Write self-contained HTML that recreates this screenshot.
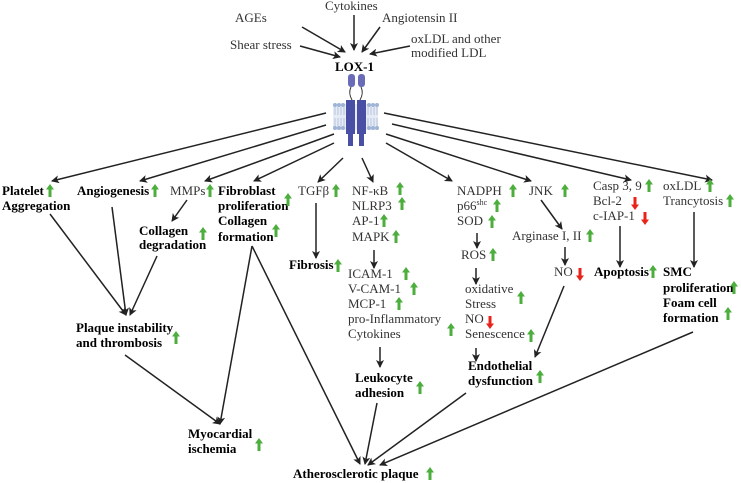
<!DOCTYPE html>
<html><head><meta charset="utf-8"><style>
body{margin:0;background:#fff}
svg{display:block}
text{font-family:"Liberation Serif",serif;font-size:13px;fill:#333}
.b{font-weight:bold;fill:#000}
</style></head><body>
<svg width="741" height="483" viewBox="0 0 741 483" xmlns="http://www.w3.org/2000/svg">
<defs>
<marker id="a" markerWidth="8" markerHeight="8" refX="7" refY="4" orient="auto" markerUnits="userSpaceOnUse"><path d="M0,0 L8,4 L0,8 L2,4z" fill="#222"/></marker>
<g id="g"><path d="M0,-7 L4,-1.5 L1.5,-1.5 L1.5,6 L-1.5,6 L-1.5,-1.5 L-4,-1.5z" fill="#4cae3c"/></g>
<g id="r"><path d="M0,7 L4,1.5 L1.5,1.5 L1.5,-6 L-1.5,-6 L-1.5,1.5 L-4,1.5z" fill="#e8231a"/></g>
</defs>
<g stroke="#222" stroke-width="1.5" fill="none" marker-end="url(#a)">
<line x1="300" y1="46" x2="340" y2="57"/>
<line x1="302" y1="27" x2="345" y2="52"/>
<line x1="354" y1="15" x2="354" y2="50"/>
<line x1="380" y1="27" x2="362" y2="52"/>
<line x1="410" y1="46" x2="370" y2="54"/>
<line x1="326" y1="113" x2="52" y2="181"/>
<line x1="326" y1="125" x2="140" y2="181"/>
<line x1="334" y1="134" x2="205" y2="181"/>
<line x1="334" y1="143" x2="254" y2="181"/>
<line x1="343" y1="158" x2="318" y2="182"/>
<line x1="362" y1="158" x2="373" y2="182"/>
<line x1="386" y1="143" x2="452" y2="181"/>
<line x1="386" y1="134" x2="531" y2="181"/>
<line x1="392" y1="124" x2="631" y2="180"/>
<line x1="384" y1="113" x2="712" y2="180"/>
<line x1="187" y1="200" x2="172" y2="221"/>
<line x1="316" y1="203" x2="316" y2="258"/>
<line x1="374" y1="250" x2="374" y2="268"/>
<line x1="380" y1="347" x2="380" y2="367"/>
<line x1="477" y1="233" x2="477" y2="248"/>
<line x1="476" y1="268" x2="476" y2="284"/>
<line x1="476" y1="348" x2="476" y2="361"/>
<line x1="541" y1="200" x2="562" y2="229"/>
<line x1="565" y1="247" x2="565" y2="265"/>
<line x1="620" y1="226" x2="620" y2="267"/>
<line x1="694" y1="212" x2="694" y2="267"/>
<line x1="50" y1="214" x2="126" y2="315"/>
<line x1="112" y1="207" x2="126" y2="315"/>
<line x1="157" y1="256" x2="130" y2="315"/>
<line x1="125" y1="355" x2="220" y2="424"/>
<line x1="252" y1="246" x2="220" y2="424"/>
<line x1="252" y1="246" x2="360" y2="464"/>
<line x1="377" y1="403" x2="365" y2="464"/>
<line x1="466" y1="393" x2="368" y2="465"/>
<line x1="693" y1="332" x2="380" y2="465"/>
<line x1="564" y1="286" x2="535" y2="357"/>
</g>
<!-- receptor -->
<g>
<rect x="333" y="104" width="45" height="26" fill="#e6ecf6"/>
<g stroke="#b5c3de" stroke-width="1">
<path d="M335,107 v8 M338,107 v8 M341,107 v8 M344,107 v8 M368,107 v8 M371,107 v8 M374,107 v8 M377,107 v8"/>
<path d="M335,118 v8 M338,118 v8 M341,118 v8 M344,118 v8 M368,118 v8 M371,118 v8 M374,118 v8 M377,118 v8"/>
</g>
<g fill="#9fb3d6">
<circle cx="335" cy="105" r="2"/><circle cx="339" cy="105" r="2"/><circle cx="343" cy="105" r="2"/><circle cx="369" cy="105" r="2"/><circle cx="373" cy="105" r="2"/><circle cx="377" cy="105" r="2"/>
<circle cx="335" cy="128" r="2"/><circle cx="339" cy="128" r="2"/><circle cx="343" cy="128" r="2"/><circle cx="369" cy="128" r="2"/><circle cx="373" cy="128" r="2"/><circle cx="377" cy="128" r="2"/>
</g>
<rect x="348" y="74" width="7" height="13" rx="3" fill="#6a6cb8"/>
<rect x="358" y="74" width="7" height="13" rx="3" fill="#6a6cb8"/>
<path d="M351,87 q-3,6 1,13 M361,87 q3,6 -1,13" stroke="#333" fill="none"/>
<rect x="346" y="100" width="9" height="34" fill="#4a4fa6"/>
<rect x="357" y="100" width="9" height="34" fill="#4a4fa6"/>
<rect x="348" y="134" width="5" height="12" fill="#4a4fa6"/>
<rect x="359" y="134" width="5" height="12" fill="#4a4fa6"/>
</g>
<!-- top text -->
<text x="325" y="10">Cytokines</text>
<text x="235" y="22">AGEs</text>
<text x="382" y="22">Angiotensin II</text>
<text x="230" y="49">Shear stress</text>
<text x="411" y="43">oxLDL and other</text>
<text x="411" y="57">modified LDL</text>
<text class="b" x="335" y="71">LOX-1</text>
<!-- row 1 -->
<text class="b" x="2" y="195">Platelet</text><text class="b" x="2" y="210">Aggregation</text><use href="#g" x="50" y="191"/>
<text class="b" x="77" y="195">Angiogenesis</text><use href="#g" x="155" y="191"/>
<text x="170" y="195">MMPs</text><use href="#g" x="210" y="191"/>
<text class="b" x="218" y="195">Fibroblast</text><text class="b" x="218" y="210">proliferation</text><text class="b" x="218" y="225">Collagen</text><text class="b" x="218" y="241">formation</text>
<use href="#g" x="288" y="200"/><use href="#g" x="276" y="231"/>
<text x="298" y="195">TGFβ</text><use href="#g" x="336" y="191"/>
<text class="b" x="139" y="235">Collagen</text><text class="b" x="139" y="249">degradation</text><use href="#g" x="203" y="234"/>
<text class="b" x="289" y="269">Fibrosis</text><use href="#g" x="338" y="266"/>
<text x="352" y="195">NF-κB</text><use href="#g" x="400" y="189"/>
<text x="352" y="210">NLRP3</text><use href="#g" x="402" y="204"/>
<text x="352" y="225">AP-1</text><use href="#g" x="384" y="221"/>
<text x="352" y="241">MAPK</text><use href="#g" x="396" y="237"/>
<text x="348" y="278">ICAM-1</text><use href="#g" x="406" y="274"/>
<text x="348" y="293">V-CAM-1</text><use href="#g" x="414" y="289"/>
<text x="348" y="308">MCP-1</text><use href="#g" x="399" y="304"/>
<text x="348" y="323">pro-Inflammatory</text><use href="#g" x="451" y="330"/>
<text x="348" y="338">Cytokines</text>
<text class="b" x="355" y="382">Leukocyte</text><text class="b" x="355" y="397">adhesion</text><use href="#g" x="420" y="388"/>
<text x="457" y="195">NADPH</text><use href="#g" x="513" y="191"/>
<text x="457" y="210">p66<tspan font-size="8" dy="-5">shc</tspan></text><use href="#g" x="497" y="206"/>
<text x="457" y="225">SOD</text><use href="#g" x="492" y="222"/>
<text x="461" y="259">ROS</text><use href="#g" x="493" y="255"/>
<text x="465" y="293">oxidative</text><use href="#g" x="521" y="298"/>
<text x="465" y="308">Stress</text>
<text x="465" y="323">NO</text><use href="#r" x="490" y="322"/>
<text x="465" y="338">Senescence</text><use href="#g" x="531" y="336"/>
<text class="b" x="468" y="370">Endothelial</text><text class="b" x="468" y="385">dysfunction</text><use href="#g" x="540" y="377"/>
<text x="529" y="195">JNK</text><use href="#g" x="565" y="191"/>
<text x="512" y="240">Arginase I, II</text><use href="#g" x="590" y="236"/>
<text x="554" y="276">NO</text><use href="#r" x="580" y="274"/>
<text x="593" y="190">Casp 3, 9</text><use href="#g" x="649" y="186"/>
<text x="593" y="205">Bcl-2</text><use href="#r" x="635" y="203"/>
<text x="593" y="220">c-IAP-1</text><use href="#r" x="645" y="218"/>
<text class="b" x="594" y="276">Apoptosis</text><use href="#g" x="653" y="272"/>
<text x="663" y="190">oxLDL</text><use href="#g" x="710" y="186"/>
<text x="663" y="205">Trancytosis</text><use href="#g" x="730" y="201"/>
<text class="b" x="663" y="276">SMC</text><text class="b" x="663" y="292">proliferation</text><text class="b" x="663" y="307">Foam cell</text><text class="b" x="663" y="322">formation</text>
<use href="#g" x="734" y="288"/><use href="#g" x="728" y="314"/>
<text class="b" x="76" y="332">Plaque instability</text><text class="b" x="76" y="347">and thrombosis</text><use href="#g" x="176" y="338"/>
<text class="b" x="188" y="438">Myocardial</text><text class="b" x="188" y="453">ischemia</text><use href="#g" x="259" y="445"/>
<text class="b" x="293" y="478">Atherosclerotic plaque</text><use href="#g" x="430" y="474"/>
</svg>
</body></html>
